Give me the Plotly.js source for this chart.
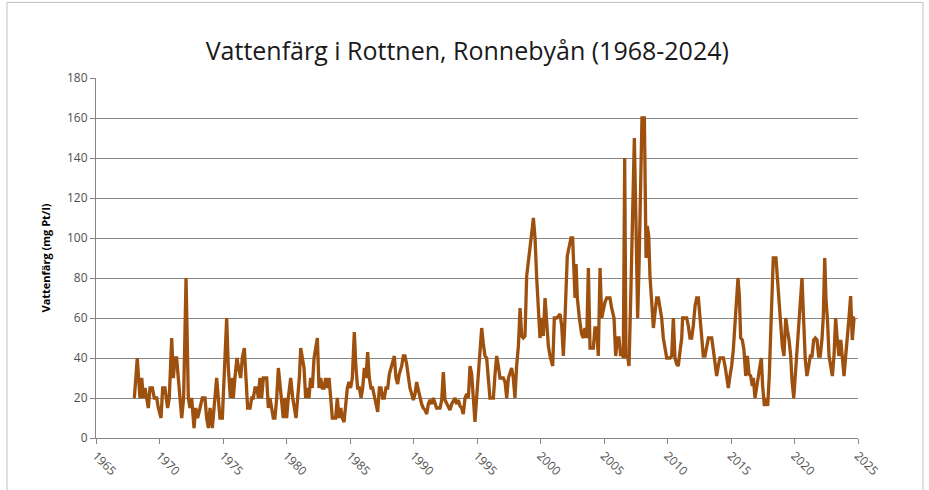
<!DOCTYPE html>
<html>
<head>
<meta charset="utf-8">
<script src="https://cdn.plot.ly/plotly-3.0.1.min.js"></script>
<style>html,body{margin:0;padding:0;background:#fff;}#chart{width:929px;height:490px;}</style>
</head>
<body>
<div id="chart"></div>
<script>
// Decimal year and colour value (mg Pt/l)
var years1968 = [1968.02,1968.25,1968.46,1968.60,1968.73,1968.86,1968.99,1969.12,1969.25,1969.44,1969.59,1969.78,1969.91,1970.12,1970.25,1970.43,1970.64,1970.77,1970.96,1971.09,1971.22,1971.35,1971.48,1971.61,1971.75,1971.90,1972.09,1972.27,1972.40,1972.53,1972.72,1972.85,1973.00,1973.19,1973.37,1973.58,1973.71,1973.85,1973.98,1974.16,1974.32,1974.50,1974.63,1974.76,1974.95,1975.10,1975.29,1975.42,1975.58,1975.68,1975.81,1975.94,1976.10,1976.23,1976.39,1976.52,1976.68,1976.81,1976.94,1977.13,1977.26,1977.39,1977.52,1977.68,1977.78];
var values1968 = [20,40,20,30,20,25,20,15,25,25,20,20,15,10,25,25,15,20,50,30,40,40,30,20,10,20,80,20,15,20,5,15,10,15,20,20,10,5,15,5,15,30,20,10,10,30,60,35,20,30,20,30,40,35,30,40,45,30,15,15,20,20,25,25,20];

var years1978 = [1977.91,1978.04,1978.18,1978.31,1978.44,1978.57,1978.70,1978.83,1978.96,1979.09,1979.23,1979.36,1979.49,1979.62,1979.75,1979.88,1980.01,1980.14,1980.33,1980.49,1980.62,1980.75,1980.88,1981.01,1981.12,1981.25,1981.38,1981.51,1981.64,1981.77,1981.90,1982.03,1982.17,1982.30,1982.43,1982.56,1982.69,1982.82,1982.95,1983.08,1983.22,1983.35,1983.48,1983.61,1983.74,1983.87,1984.00,1984.13,1984.27,1984.40,1984.53,1984.66,1984.79,1984.92,1985.05,1985.18,1985.34,1985.47,1985.60,1985.74,1985.87,1986.00,1986.13,1986.26,1986.39,1986.52,1986.65,1986.78,1986.92,1987.05,1987.18,1987.31,1987.44,1987.57,1987.70,1987.83,1987.97,1988.10,1988.23,1988.36,1988.49,1988.62,1988.75,1988.88];
var values1978 = [30,20,30,30,30,15,20,15,10,10,20,35,25,20,10,20,10,20,30,20,15,10,20,30,45,40,35,20,25,20,30,25,40,45,50,25,30,25,25,30,25,30,20,10,10,10,20,10,15,10,8,15,25,28,25,30,53,35,25,25,20,25,35,30,43,30,25,25,20,16,13,25,25,20,20,25,25,32,35,38,41,30,27,32];

var years1989 = [1989.07,1989.20,1989.33,1989.46,1989.59,1989.72,1989.86,1989.99,1990.12,1990.25,1990.38,1990.51,1990.64,1990.77,1990.91,1991.04,1991.17,1991.30,1991.43,1991.56,1991.69,1991.82,1991.96,1992.09,1992.22,1992.35,1992.48,1992.61,1992.74,1992.87,1993.01,1993.14,1993.27,1993.40,1993.53,1993.66,1993.79,1993.92,1994.06,1994.19,1994.32,1994.45,1994.58,1994.71,1994.84,1994.97,1995.11,1995.24,1995.37,1995.50,1995.63,1995.76,1995.89,1996.02,1996.16,1996.29,1996.42,1996.55,1996.68,1996.81,1996.94,1997.07,1997.21,1997.34,1997.47,1997.60,1997.73,1997.86,1997.99,1998.12,1998.26,1998.39,1998.52,1998.65,1998.78,1998.91,1999.04,1999.17,1999.30,1999.44,1999.57,1999.70,1999.83,1999.96];
var values1989 = [36,41,41,37,31,25,22,19,22,28,24,20,17,15,14,12,17,19,17,20,17,15,15,15,19,33,19,17,15,14,17,19,20,17,19,16,15,12,20,22,20,36,32,20,8,20,32,47,55,47,41,40,29,20,20,20,32,41,36,30,30,30,28,20,30,32,35,30,20,36,46,65,51,50,51,81,87,95,102,110,100,80,62,50];

var years2000 = [2000.09,2000.22,2000.36,2000.49,2000.62,2000.75,2000.96,2001.09,2001.27,2001.41,2001.54,2001.67,2001.80,2001.93,2002.11,2002.27,2002.40,2002.53,2002.64,2002.72,2002.80,2002.90,2003.06,2003.24,2003.37,2003.50,2003.64,2003.77,2003.90,2004.03,2004.16,2004.29,2004.42,2004.55,2004.69,2004.82,2004.95,2005.08,2005.21,2005.47,2005.60,2005.79,2005.92,2006.05,2006.18,2006.31,2006.42,2006.52,2006.63,2006.73,2006.86,2006.97,2007.10,2007.26,2007.39,2007.52,2007.65,2007.76,2007.89,2007.99,2008.18,2008.26,2008.31,2008.41,2008.52,2008.62,2008.75,2008.89,2009.02,2009.15,2009.28,2009.41,2009.54,2009.67,2009.80,2009.94,2010.20];
var values2000 = [60,51,70,56,46,41,36,60,60,61,62,56,41,60,91,96,100,100,87,70,87,70,60,52,50,55,50,85,45,45,45,55,55,41,85,60,65,68,70,70,65,60,41,50,50,41,45,40,140,40,41,36,69,120,150,107,60,86,121,160,160,119,90,106,101,81,66,55,63,70,70,65,60,50,46,40,40];

var years2010 = [2010.33,2010.46,2010.59,2010.72,2010.85,2010.98,2011.12,2011.19,2011.38,2011.51,2011.64,2011.77,2011.90,2012.03,2012.17,2012.30,2012.43,2012.56,2012.69,2012.82,2012.95,2013.08,2013.22,2013.35,2013.48,2013.61,2013.74,2013.87,2014.00,2014.13,2014.27,2014.40,2014.53,2014.66,2014.79,2014.92,2015.05,2015.18,2015.32,2015.45,2015.55,2015.66,2015.76,2015.89,2016.02,2016.16,2016.29,2016.42,2016.55,2016.68,2016.76,2016.89,2017.02,2017.15,2017.28,2017.39,2017.49,2017.63,2017.76,2017.89,2018.02,2018.15,2018.33,2018.54,2018.65,2018.78,2018.91,2019.04,2019.17,2019.31,2019.44,2019.57,2019.70,2019.80,2019.94,2020.07,2020.20,2020.33,2020.46,2020.59,2020.72,2020.85,2020.98,2021.12,2021.25,2021.38,2021.51,2021.64,2021.77,2021.90,2022.03,2022.17,2022.27,2022.38,2022.48,2022.59,2022.72,2022.85,2022.98,2023.11,2023.24,2023.37,2023.50,2023.64,2023.77,2023.90,2024.03,2024.16,2024.29,2024.42,2024.55,2024.69,2024.76];
var values2010 = [41,60,40,37,36,43,50,60,60,60,56,50,50,56,66,70,70,61,50,41,41,46,50,50,50,44,36,31,36,40,40,40,36,29,25,31,36,44,56,71,80,71,50,49,44,31,41,32,31,26,30,20,26,31,36,40,26,16,20,16,32,57,90,90,79,67,56,46,41,60,54,49,41,29,20,32,49,60,71,80,59,39,31,36,41,41,49,50,49,41,41,50,61,90,69,60,41,36,31,41,60,49,41,49,39,31,41,49,60,71,49,60,60];

var xTickVals = [1965,1970,1975,1980,1985,1990,1995,2000,2005,2010,2015,2020,2025];
var yTickVals = [0,20,40,60,80,100,120,140,160,180];

var chartTitle = 'Vattenfärg i Rottnen, Ronnebyån (1968-2024)';
var yTitle = 'Vattenfärg (mg Pt/l)';

var xs = years1968.concat(years1978, years1989, years2000, years2010);
var ys = values1968.concat(values1978, values1989, values2000, values2010);

var font = '"Open Sans", "Liberation Sans", sans-serif';

var trace = {
  x: xs, y: ys, type: 'scatter', mode: 'lines',
  line: {color: '#9E500E', width: 3.3},
  hoverinfo: 'none'
};

var layout = {
  width: 929, height: 490,
  margin: {l: 96, r: 71, t: 78, b: 52},
  paper_bgcolor: '#ffffff', plot_bgcolor: '#ffffff',
  showlegend: false,
  title: {text: chartTitle, x: 0.503, xanchor: 'center', y: 0.895, yanchor: 'middle',
          font: {family: font, size: 25, color: '#1a1a1a'}},
  xaxis: {
    range: [1965, 2025], tickmode: 'array', tickvals: xTickVals, ticktext: xTickVals.map(String),
    tickangle: 45, ticks: 'outside', ticklen: 5, tickcolor: '#868686',
    showline: true, linecolor: '#868686', linewidth: 1, showgrid: false, zeroline: false,
    tickfont: {family: font, size: 12, color: '#505050'}
  },
  yaxis: {
    range: [0, 180], tickmode: 'array', tickvals: yTickVals,
    ticks: 'outside', ticklen: 5, tickcolor: '#868686',
    showline: true, linecolor: '#868686', linewidth: 1,
    showgrid: true, gridcolor: '#878787', gridwidth: 1, zeroline: false,
    tickfont: {family: font, size: 12, color: '#505050'},
    title: {text: '<b>' + yTitle + '</b>', standoff: 14, font: {family: font, size: 11, color: '#000'}}
  },
  shapes: [{
    type: 'rect', xref: 'paper', yref: 'paper',
    x0: -0.1168, x1: 1.0853, y0: -0.16, y1: 1.21,
    line: {color: '#bfbfbf', width: 1}, fillcolor: 'rgba(0,0,0,0)', layer: 'below'
  }]
};

Plotly.newPlot('chart', [trace], layout, {staticPlot: true, displayModeBar: false});
</script>
</body>
</html>
